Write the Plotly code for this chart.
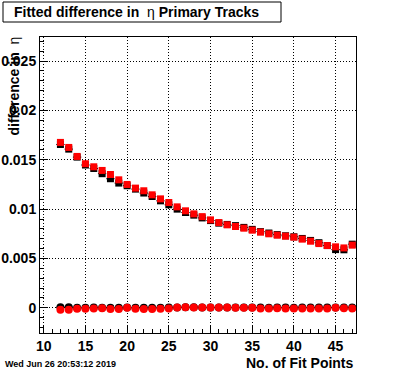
import plotly.graph_objects as go

fit_points = list(range(12, 48))

# upper series (squares)
red_sq = [0.01676, 0.01625, 0.01534, 0.01460, 0.01429, 0.01392, 0.01351, 0.01297,
          0.01250, 0.01213, 0.01186, 0.01145, 0.01104, 0.01067, 0.01023, 0.00983,
          0.00952, 0.00924, 0.00891, 0.00864, 0.00841, 0.00824, 0.00807, 0.00787,
          0.00767, 0.00750, 0.00736, 0.00726, 0.00716, 0.00696, 0.00675, 0.00651,
          0.00631, 0.00618, 0.00607, 0.00635]
black_sq = [0.01655, 0.01608, 0.01527, 0.01447, 0.01412, 0.01359, 0.01308, 0.01264,
            0.01237, 0.01203, 0.01163, 0.01128, 0.01084, 0.01044, 0.01000, 0.00966,
            0.00939, 0.00911, 0.00884, 0.00858, 0.00845, 0.00833, 0.00815, 0.00795,
            0.00772, 0.00758, 0.00742, 0.00730, 0.00720, 0.00703, 0.00683, 0.00660,
            0.00631, 0.00590, 0.00588, 0.00645]

# lower series (circles)
red_ci = [-0.00020, -0.00020, -0.00010, -0.00010, -0.00007, -0.00003, -0.00013, -0.00013,
          0.00000, -0.00010, -0.00013, -0.00013, -0.00010, -0.00007, 0.00003, 0.00007,
          0.00003, 0.00003, 0.00003, 0.00003, 0.00003, 0.00000, 0.00000, 0.00000,
          -0.00007, -0.00007, -0.00003, -0.00007, -0.00007, -0.00007, -0.00007, -0.00007,
          -0.00007, 0.00000, -0.00003, -0.00007]
black_ci = [0.00007, 0.00007, 0.00000, 0.00000, 0.00003, 0.00000, 0.00000, 0.00000,
            0.00003, 0.00000, 0.00000, 0.00000, 0.00000, 0.00003, 0.00003, 0.00007,
            0.00007, 0.00003, 0.00003, 0.00003, 0.00003, 0.00003, 0.00003, 0.00003,
            0.00003, 0.00000, 0.00003, 0.00003, 0.00000, 0.00003, 0.00003, 0.00003,
            0.00003, 0.00003, 0.00003, 0.00003]

x_ticks = [10, 15, 20, 25, 30, 35, 40, 45]
y_ticks = [0, 0.005, 0.01, 0.015, 0.02, 0.025]
y_ticktext = ["0", "0.005", "0.01", "0.015", "0.02", "0.025"]

W, H = 396, 372
L, R, T, B = 40, 40, 37, 39
PW, PH = W - L - R, H - T - B

fig = go.Figure()
ex = dict(type="constant", value=0.5, color="black", thickness=1, width=0)
fig.add_trace(go.Scatter(x=fit_points, y=black_ci, mode="markers",
                         marker=dict(symbol="circle", size=8, color="black"),
                         error_x=ex, showlegend=False))
fig.add_trace(go.Scatter(x=fit_points, y=black_sq, mode="markers",
                         marker=dict(symbol="square", size=7, color="black"),
                         error_x=ex, showlegend=False))
fig.add_trace(go.Scatter(x=fit_points, y=red_ci, mode="markers",
                         marker=dict(symbol="circle", size=8, color="#ff0000"),
                         showlegend=False))
fig.add_trace(go.Scatter(x=fit_points, y=red_sq, mode="markers",
                         marker=dict(symbol="square", size=7, color="#ff0000"),
                         showlegend=False))

tickfont = dict(family="Liberation Sans, Arial", size=14, color="black")
fig.update_xaxes(range=[9.55, 47.45], tickvals=x_ticks,
                 ticktext=["<b>%d</b>" % t for t in x_ticks],
                 ticks="inside", ticklen=8, automargin=False,
                 tickcolor="black", showline=True, linecolor="black", linewidth=1,
                 mirror=True, showgrid=True, gridcolor="black", griddash="1px,2px",
                 gridwidth=1, zeroline=False, tickfont=tickfont,
                 minor=dict(dtick=1, ticks="inside", ticklen=4, tickcolor="black",
                            showgrid=False))
fig.update_yaxes(range=[-0.00255, 0.02744], tickvals=y_ticks,
                 ticktext=["<b>%s</b>" % t for t in y_ticktext], automargin=False,
                 ticks="inside", ticklen=8, tickcolor="black", showline=True,
                 linecolor="black", linewidth=1, mirror=True, showgrid=True,
                 gridcolor="black", griddash="1px,2px", gridwidth=1, zeroline=False,
                 tickfont=tickfont,
                 minor=dict(dtick=0.001, tick0=0, ticks="inside", ticklen=4,
                            tickcolor="black", showgrid=False))

def px(xp):
    return (xp - L) / PW

def py(yp):
    return 1 - (yp - T) / PH

fig.add_shape(type="rect", xref="paper", yref="paper",
              x0=px(3), x1=px(281), y0=py(22), y1=py(2),
              line=dict(color="black", width=1), fillcolor="white", layer="above")

fig.add_annotation(xref="paper", yref="paper", x=px(12), y=py(12),
                   xanchor="left", yanchor="middle", showarrow=False,
                   text="<b>Fitted difference in</b>\u00a0\u00a0η <b>Primary Tracks</b>",
                   font=dict(family="Liberation Sans, Arial", size=14, color="black"))

fig.add_annotation(xref="paper", yref="paper", x=px(14), y=py(35),
                   xanchor="center", yanchor="top", showarrow=False, textangle=-90,
                   text="<b>difference in</b>\u00a0\u00a0η",
                   font=dict(family="Liberation Sans, Arial", size=14, color="black"))

fig.add_annotation(xref="paper", yref="paper", x=px(356), y=py(363),
                   xanchor="right", yanchor="middle", showarrow=False,
                   text="<b>No. of Fit Points</b>",
                   font=dict(family="Liberation Sans, Arial", size=14, color="black"))

fig.add_annotation(xref="paper", yref="paper", x=px(3), y=py(364),
                   xanchor="left", yanchor="middle", showarrow=False,
                   text="<b>Wed Jun 26 20:53:12 2019</b>",
                   font=dict(family="Liberation Sans, Arial", size=9, color="black"))

fig.update_layout(width=W, height=H, margin=dict(l=L, r=R, t=T, b=B),
                  paper_bgcolor="white", plot_bgcolor="white")

fig.write_html("out.html", config={"displayModeBar": False},
               post_script="document.body.style.margin='0';document.body.style.padding='0';")
